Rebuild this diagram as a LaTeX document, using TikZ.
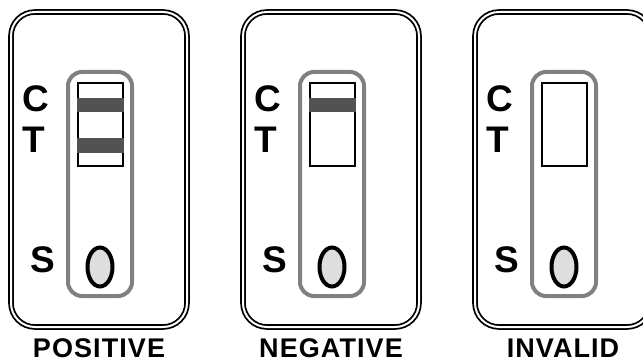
\documentclass[tikz,border=0pt]{standalone}
\usepackage{fontspec}
\setmainfont{Liberation Sans}
\usetikzlibrary{patterns}

\begin{document}
\begin{tikzpicture}[x=1pt,y=1pt,
    card/.style={draw=black,line width=1.8pt,double=white,double distance=2pt,rounded corners=24pt},
    strip/.style={draw=black!50,line width=4pt,rounded corners=14pt},
    window/.style={draw=black,line width=2.2pt},
    band/.style={fill=black!68},
    well/.style={draw=black,line width=4pt,fill=black!13},
    letter/.style={font=\bfseries\fontsize{37}{37}\selectfont,inner sep=0pt,anchor=west},
    result/.style={font=\bfseries\fontsize{27}{27}\selectfont\addfontfeatures{LetterSpace=4},inner sep=0pt}]
    \useasboundingbox (0,0) rectangle (643,362);
    \clip (0,0) rectangle (643,362);

    % three cassettes: left edge, result text, number of visible lines
    \foreach \X/\txt/\nb [count=\i] in {11/POSITIVE/2, 243/NEGATIVE/1, 475/INVALID/0} {
        % housing and sample strip
        \draw[card] (\X,35) rectangle ++(176,315);
        \draw[strip] (\X+57,66) rectangle (\X+121,290);
        \draw[window] (\X+67,196) rectangle (\X+112,279);

        % control and test lines
        \ifnum\nb>0 \fill[band] (\X+66,250) rectangle (\X+113,264); \fi
        \ifnum\nb>1 \fill[band] (\X+66,209) rectangle (\X+113,224); \fi

        % sample well
        \draw[well] (\X+89,95) ellipse (12.5pt and 19.5pt);

        % Labels
        \node[letter] (c\i) at (\X+11,263) {C};
        \node[letter] (t\i) at (\X+11,222) {T};
        \node[letter] (s\i) at (\X+19,102) {S};
        \node[result] (res\i) at (\X+88,14) {\txt};
    }
\end{tikzpicture}
\end{document}
